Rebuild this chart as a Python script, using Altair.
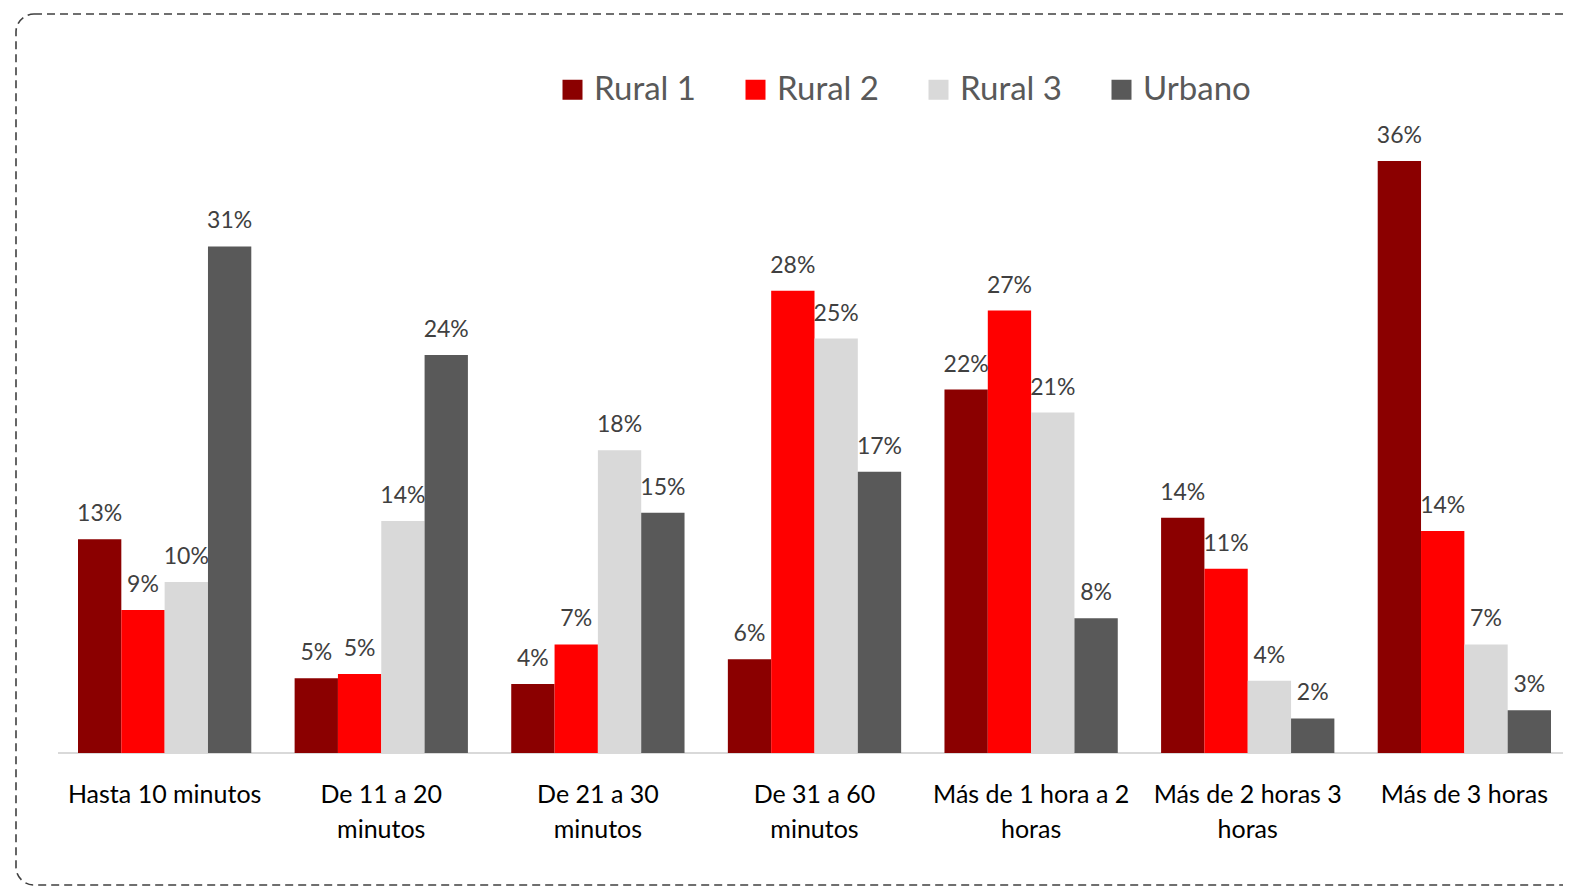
import altair as alt
import pandas as pd

categories = ["Hasta 10 minutos", "De 11 a 20 minutos", "De 21 a 30 minutos",
              "De 31 a 60 minutos", "Más de 1 hora a 2 horas",
              "Más de 2 horas 3 horas", "Más de 3 horas"]
series = ["Rural 1", "Rural 2", "Rural 3", "Urbano"]
rural1 = [13.0, 4.55, 4.2, 5.7, 22.1, 14.3, 36.0]
rural2 = [8.7, 4.8, 6.6, 28.1, 26.9, 11.2, 13.5]
rural3 = [10.4, 14.1, 18.4, 25.2, 20.7, 4.4, 6.6]
urbano = [30.8, 24.2, 14.6, 17.1, 8.2, 2.1, 2.6]
colors = ["#8b0000", "#ff0000", "#d9d9d9", "#595959"]

rows = []
for s, vals in zip(series, [rural1, rural2, rural3, urbano]):
    for c, v in zip(categories, vals):
        rows.append({"cat": c, "serie": s, "v": v})
df = pd.DataFrame(rows)

W, H = 1497, 625

label_expr = ("length(datum.label) > 16 ? [substring(datum.label, 0, lastindexof(datum.label, ' ')), "
              "substring(datum.label, lastindexof(datum.label, ' ') + 1)] : datum.label")

x_enc = alt.X("cat:N", sort=categories,
              scale=alt.Scale(paddingInner=0.2, paddingOuter=0.0554),
              axis=alt.Axis(title=None, labelAngle=0, ticks=False, labelFont="Lato",
                            labelFontSize=25, labelColor="#000000", labelPadding=29,
                            labelLineHeight=35, domain=False,
                            labelExpr=label_expr, labelLimit=300))
xo_enc = alt.XOffset("serie:N", sort=series, scale=alt.Scale(paddingInner=0, paddingOuter=0))
y_enc = alt.Y("v:Q", scale=alt.Scale(domain=[0, 38], nice=False), axis=None)

baseline = alt.Chart(alt.Data(values=[{"a": 1}])).mark_rule(
    color="#d9d9d9", strokeWidth=2
).encode(x=alt.value(-8), x2=alt.value(W + 20), y=alt.value(H))

bars = alt.Chart(df).mark_bar().encode(
    x=x_enc, xOffset=xo_enc, y=y_enc,
    color=alt.Color("serie:N", sort=series,
                    scale=alt.Scale(domain=series, range=colors),
                    legend=alt.Legend(title=None, orient="none", direction="horizontal",
                                      columns=4, legendX=490, legendY=-55,
                                      symbolType="square", symbolSize=400,
                                      symbolStrokeWidth=0, labelFont="Lato",
                                      labelFontSize=33, labelColor="#595959",
                                      labelOffset=5, columnPadding=43, padding=0)),
)

text = alt.Chart(df).transform_calculate(
    lab="format(datum.v, '.0f') + '%'"
).mark_text(font="Lato", fontSize=23, color="#404040", dy=-18, baseline="alphabetic").encode(
    x=x_enc, xOffset=xo_enc, y=y_enc, text="lab:N"
)

border = alt.Chart(alt.Data(values=[{"a": 1}])).mark_rect(
    fill="white", fillOpacity=0, stroke="#404040", strokeWidth=1.6,
    strokeDash=[8, 5], cornerRadius=18
).encode(x=alt.value(-50), x2=alt.value(1620), y=alt.value(-114), y2=alt.value(757))

chart = alt.layer(border, baseline, bars, text).properties(
    width=W, height=H,
    autosize=alt.AutoSizeParams(type="none"),
    padding={"left": 58, "top": 120, "right": 0, "bottom": 135},
).configure(font="Lato").configure_view(stroke="transparent", strokeWidth=0)

chart.save("out.html", embed_options={"renderer": "svg", "actions": False})
